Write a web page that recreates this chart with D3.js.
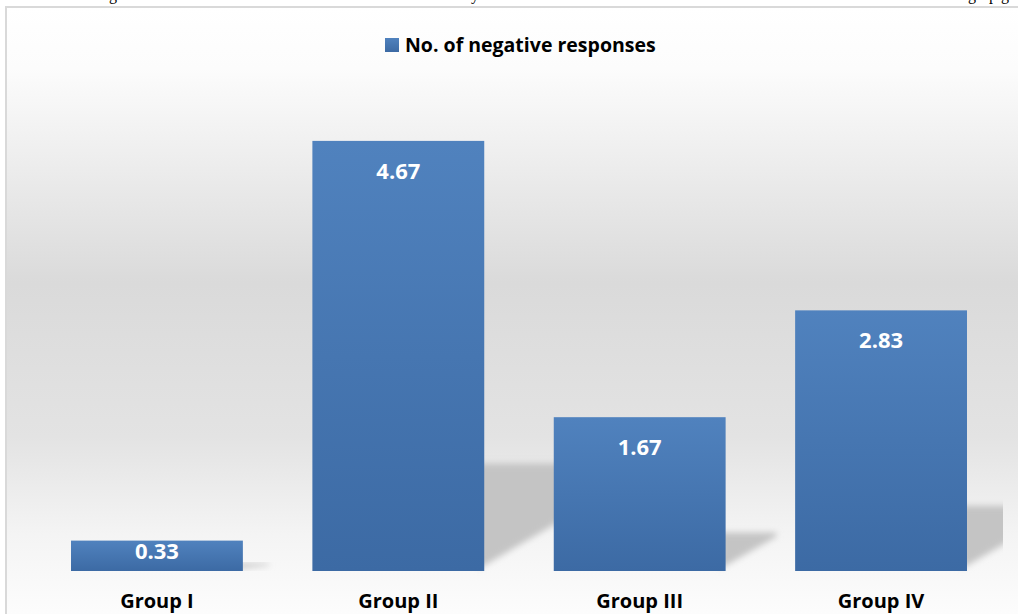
<!DOCTYPE html>
<html>
<head>
<meta charset="utf-8">
<script src="https://cdn.jsdelivr.net/npm/d3@7"></script>
<style>
  body { margin: 0; background: #fff; }
  svg { display: block; }
  text { font-family: "Open Sans", sans-serif; font-weight: bold; }
</style>
</head>
<body>
<svg width="1018" height="614"></svg>
<script>
const categories = ["Group I", "Group II", "Group III", "Group IV"];
const values = [0.33, 4.67, 1.67, 2.83];
const seriesName = "No. of negative responses";

const W = 1018, H = 614;
const baseY = 571;
const svg = d3.select("svg");
const defs = svg.append("defs");

// page background gradient
const bg = defs.append("linearGradient").attr("id", "bg")
  .attr("x1", 0).attr("y1", 0).attr("x2", 0).attr("y2", 1);
[[0, "#ffffff"], [0.1, "#fcfcfc"], [0.45, "#dadada"], [0.7, "#e3e3e3"], [0.86, "#f4f4f4"], [1, "#fdfdfd"]]
  .forEach(s => bg.append("stop").attr("offset", s[0]).attr("stop-color", s[1]));

const barGrad = defs.append("linearGradient").attr("id", "barGrad")
  .attr("x1", 0).attr("y1", 0).attr("x2", 0).attr("y2", 1);
barGrad.append("stop").attr("offset", 0).attr("stop-color", "#5082be");
barGrad.append("stop").attr("offset", 1).attr("stop-color", "#3c6aa4");

defs.append("filter").attr("id", "soft").attr("x", "-20%").attr("y", "-20%")
  .attr("width", "140%").attr("height", "140%")
  .append("feGaussianBlur").attr("stdDeviation", 3);

defs.append("clipPath").attr("id", "plotClip")
  .append("rect").attr("x", 6).attr("y", 7).attr("width", 997).attr("height", 600);

// cut-off line of text above the chart (only descenders show)
const topText = [["g", 113], ["y", 475], ["g", 972], ["p", 993], ["g", 1005]];
svg.selectAll("text.top").data(topText).enter().append("text")
  .attr("class", "top")
  .attr("x", d => d[1]).attr("y", 0)
  .attr("text-anchor", "middle")
  .style("font-family", "'Liberation Serif', serif")
  .style("font-weight", "normal")
  .style("font-size", "16px")
  .text(d => d[0]);

// chart area
svg.append("rect")
  .attr("x", 6).attr("y", 7).attr("width", W + 10).attr("height", H)
  .attr("fill", "url(#bg)")
  .attr("stroke", "#d9d9d9").attr("stroke-width", 2);

const x = d3.scaleBand()
  .domain(categories)
  .range([36.25, 1001.75])
  .paddingInner(0.288)
  .paddingOuter(0.144);

const y = d3.scaleLinear()
  .domain([0, 5])
  .range([baseY, baseY - 460.5]);

const data = categories.map((c, i) => ({ cat: c, val: values[i] }));

// floor shadows behind bars
svg.append("g").attr("clip-path", "url(#plotClip)")
  .selectAll("polygon").data(data).enter().append("polygon")
  .attr("fill", "#c4c4c4")
  .attr("filter", "url(#soft)")
  .attr("points", d => {
    const xr = x(d.cat) + x.bandwidth();
    const h = baseY - y(d.val);
    const sx = 0.2 * h + 20;
    const top = baseY - 0.25 * h;
    const br = Math.max(top + 2, baseY - 4 - 0.6 * sx);
    return [[xr - 6, top], [xr + sx, top], [xr + sx, br], [xr - 6, baseY - 2]]
      .map(p => p.join(",")).join(" ");
  });

// bars
svg.append("g").selectAll("rect").data(data).enter().append("rect")
  .attr("x", d => x(d.cat))
  .attr("y", d => y(d.val))
  .attr("width", x.bandwidth())
  .attr("height", d => baseY - y(d.val))
  .attr("fill", "url(#barGrad)");

// value labels
svg.append("g").selectAll("text").data(data).enter().append("text")
  .attr("x", d => x(d.cat) + x.bandwidth() / 2)
  .attr("y", d => Math.min(y(d.val) + 38, baseY - 12))
  .attr("text-anchor", "middle")
  .attr("fill", "#ffffff")
  .style("font-size", "22px")
  .text(d => d.val.toFixed(2));

// category axis labels
const xAxis = svg.append("g")
  .attr("transform", `translate(0,${baseY})`)
  .call(d3.axisBottom(x).tickSize(0).tickPadding(0));
xAxis.select(".domain").remove();
xAxis.selectAll("text")
  .attr("dy", 0).attr("y", 37)
  .attr("fill", "#000")
  .style("font-family", "'Open Sans', sans-serif")
  .style("font-weight", "bold")
  .style("font-size", "20px");

// legend
const legend = svg.append("g");
legend.append("rect")
  .attr("x", 385).attr("y", 38).attr("width", 14).attr("height", 14)
  .attr("fill", "url(#barGrad)");
legend.append("text")
  .attr("x", 405).attr("y", 52)
  .attr("fill", "#000")
  .style("font-size", "19.5px")
  .text(seriesName);
</script>
</body>
</html>
